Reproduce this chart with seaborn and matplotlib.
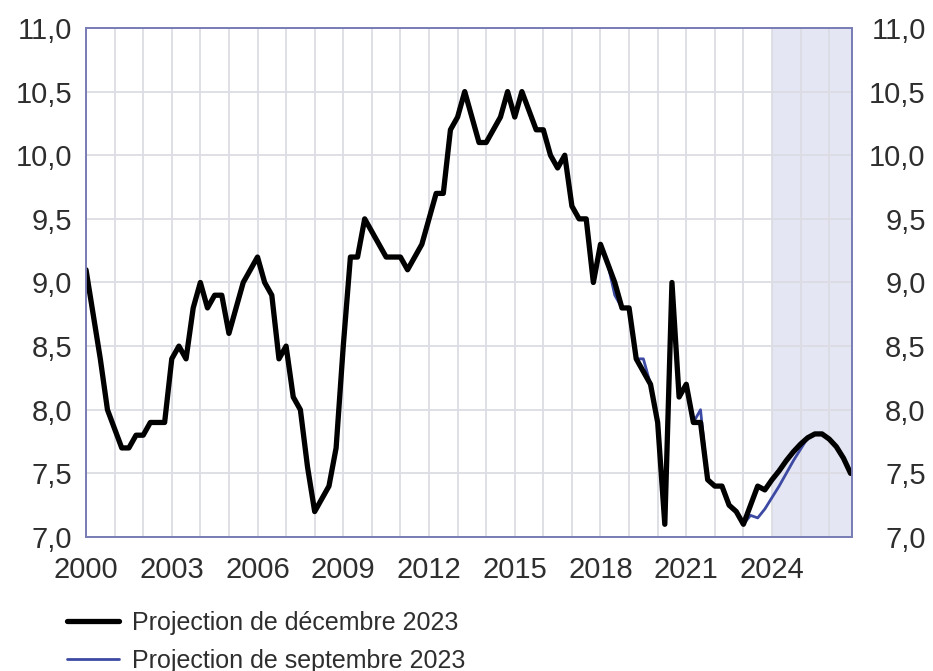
import numpy as np
import pandas as pd
import matplotlib
matplotlib.use("Agg")
import matplotlib.pyplot as plt
import seaborn as sns

# Taux de chomage trimestriel (%), 2000T1 - 2026T4
dec_2023 = [
    9.1, 8.75, 8.4, 8.0,      # 2000
    7.85, 7.7, 7.7, 7.8,      # 2001
    7.8, 7.9, 7.9, 7.9,       # 2002
    8.4, 8.5, 8.4, 8.8,       # 2003
    9.0, 8.8, 8.9, 8.9,       # 2004
    8.6, 8.8, 9.0, 9.1,       # 2005
    9.2, 9.0, 8.9, 8.4,       # 2006
    8.5, 8.1, 8.0, 7.55,      # 2007
    7.2, 7.3, 7.4, 7.7,       # 2008
    8.5, 9.2, 9.2, 9.5,       # 2009
    9.4, 9.3, 9.2, 9.2,       # 2010
    9.2, 9.1, 9.2, 9.3,       # 2011
    9.5, 9.7, 9.7, 10.2,      # 2012
    10.3, 10.5, 10.3, 10.1,   # 2013
    10.1, 10.2, 10.3, 10.5,   # 2014
    10.3, 10.5, 10.35, 10.2,  # 2015
    10.2, 10.0, 9.9, 10.0,    # 2016
    9.6, 9.5, 9.5, 9.0,       # 2017
    9.3, 9.15, 9.0, 8.8,      # 2018
    8.8, 8.4, 8.3, 8.2,       # 2019
    7.9, 7.1, 9.0, 8.1,       # 2020
    8.2, 7.9, 7.9, 7.45,      # 2021
    7.4, 7.4, 7.25, 7.2,      # 2022
    7.1, 7.25, 7.4, 7.37,     # 2023
    7.45, 7.52, 7.6, 7.67,    # 2024
    7.73, 7.78, 7.81, 7.81,   # 2025
    7.77, 7.71, 7.62, 7.5,    # 2026
]

sep_2023 = [
    9.1, 8.75, 8.4, 8.0,
    7.85, 7.7, 7.7, 7.8,
    7.8, 7.9, 7.9, 7.9,
    8.4, 8.5, 8.4, 8.8,
    9.0, 8.8, 8.9, 8.9,
    8.6, 8.8, 9.0, 9.1,
    9.2, 9.0, 8.9, 8.4,
    8.5, 8.1, 8.0, 7.55,
    7.2, 7.3, 7.4, 7.7,
    8.5, 9.2, 9.2, 9.5,
    9.4, 9.3, 9.2, 9.2,
    9.2, 9.1, 9.2, 9.3,
    9.5, 9.7, 9.7, 10.2,
    10.3, 10.5, 10.3, 10.1,
    10.1, 10.2, 10.3, 10.5,
    10.3, 10.5, 10.35, 10.2,
    10.2, 10.0, 9.9, 10.0,
    9.6, 9.5, 9.5, 9.0,
    9.3, 9.15, 8.9, 8.8,
    8.8, 8.4, 8.4, 8.2,
    7.9, 7.1, 9.0, 8.1,
    8.2, 7.9, 8.0, 7.45,
    7.4, 7.4, 7.25, 7.2,
    7.1, 7.17, 7.15, 7.22,
    7.31, 7.4, 7.5, 7.6,
    7.69, 7.78, 7.81, 7.81,
    7.77, 7.71, 7.62, 7.5,
]

labels = ["Projection de décembre 2023", "Projection de septembre 2023"]
y_ticks = [7.0, 7.5, 8.0, 8.5, 9.0, 9.5, 10.0, 10.5, 11.0]
y_tick_labels = ["7,0", "7,5", "8,0", "8,5", "9,0", "9,5", "10,0", "10,5", "11,0"]
x_ticks = [2000, 2003, 2006, 2009, 2012, 2015, 2018, 2021, 2024]
projection_start = 2024

quarters = pd.period_range("2000Q1", "2026Q4", freq="Q")
t = np.asarray(quarters.year + (quarters.quarter - 1) / 4, dtype=float)

sns.set_theme(style="white")
plt.rcParams["font.family"] = ["Liberation Sans", "DejaVu Sans"]

text_col = "#2e2e2e"
spine_col = "#7a7eb6"
grid_col = "#dcdce4"

fig = plt.figure(figsize=(9.33, 6.71), dpi=100)
ax = fig.add_axes([0.0922, 0.1997, 0.8210, 0.7586])
x_max = 2026.8

ax.axvspan(projection_start, x_max, color="#e4e6f3", lw=0, zorder=0)

sns.lineplot(x=t, y=sep_2023, color="#3d4aa3", lw=2.0, ax=ax, label=labels[1], zorder=3)
sns.lineplot(x=t, y=dec_2023, color="black", lw=3.8, ax=ax, label=labels[0], zorder=4)

ax.set_xlim(2000, x_max)
ax.set_ylim(7.0, 11.0)
ax.set_xticks(x_ticks)
ax.set_xticks(range(2000, 2027), minor=True)
ax.set_yticks(y_ticks)
ax.set_yticklabels(y_tick_labels)
ax.grid(True, which="both", color=grid_col, lw=1.3)
ax.set_axisbelow(True)
ax.set_xlabel("")
ax.set_ylabel("")
ax.tick_params(axis="both", which="both", length=0, labelsize=21, labelcolor=text_col)
ax.tick_params(axis="x", pad=14)
ax.tick_params(axis="y", pad=10)

ax2 = ax.twinx()
ax2.set_ylim(7.0, 11.0)
ax2.set_yticks(y_ticks)
ax2.set_yticklabels(y_tick_labels)
ax2.tick_params(axis="y", length=0, labelsize=21, labelcolor=text_col, pad=53)
for lbl in ax2.get_yticklabels():
    lbl.set_ha("right")

for a in (ax, ax2):
    for s in a.spines.values():
        s.set_color(spine_col)
        s.set_linewidth(1.3)

handles, _ = ax.get_legend_handles_labels()
ax.get_legend().remove()
fig.legend([handles[1], handles[0]], labels, loc="upper left",
           bbox_to_anchor=(0.0718, 0.0895), frameon=False, fontsize=18,
           borderpad=0, borderaxespad=0, handlelength=2.1, handletextpad=0.5,
           labelspacing=0.55, labelcolor=text_col)

fig.savefig("out.png", dpi=100, facecolor="white")
